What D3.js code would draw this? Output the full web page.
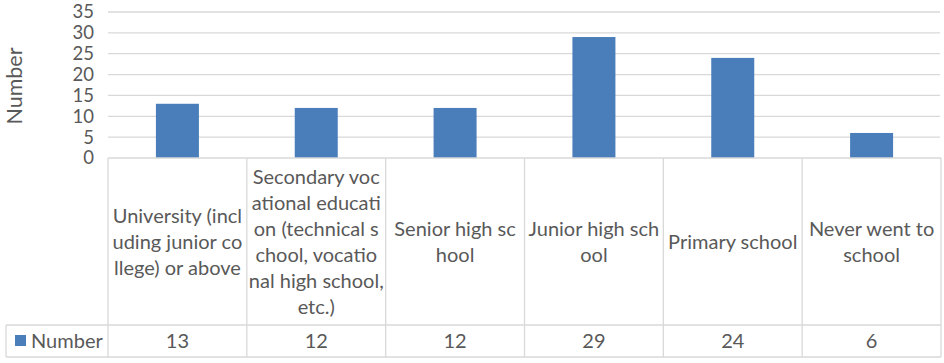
<!DOCTYPE html>
<html>
<head>
<meta charset="utf-8">
<script src="https://cdn.jsdelivr.net/npm/d3@7"></script>
<style>
  html, body { margin: 0; padding: 0; background: #fff; }
  svg { display: block; }
  text { font-family: Lato, "Open Sans", sans-serif; fill: #595959; }
</style>
</head>
<body>
<svg id="chart" width="944" height="363"></svg>
<script>
const categories = [
  "University (including junior college) or above",
  "Secondary vocational education (technical school, vocational high school, etc.)",
  "Senior high school",
  "Junior high school",
  "Primary school",
  "Never went to school"
];
const categoryLines = [
  ["University (incl", "uding junior co", "llege) or above"],
  ["Secondary voc", "ational educati", "on (technical s", "chool, vocatio", "nal high school,", "etc.)"],
  ["Senior high sc", "hool"],
  ["Junior high sch", "ool"],
  ["Primary school"],
  ["Never went to", "school"]
];
const values = [13, 12, 12, 29, 24, 6];
const seriesName = "Number";
const yTicks = [0, 5, 10, 15, 20, 25, 30, 35];
const yTitle = "Number";

(function () {
const svg = d3.select("#chart");
const pLeft = 108, pRight = 941, pTop = 12, axisY = 158;
const catBottom = 325, valBottom = 357, legendLeft = 6;
const gridCol = "#d9d9d9", barCol = "#4a7ebb";
const fs = "20px";

const x = d3.scaleBand().domain(categories).range([pLeft, pRight]).paddingInner(0).paddingOuter(0);
const y = d3.scaleLinear().domain([0, 35]).range([axisY, pTop]);

// gridlines
svg.append("g").selectAll("line").data(yTicks.filter(d => d > 0)).join("line")
  .attr("x1", pLeft).attr("x2", pRight - 1)
  .attr("y1", d => y(d)).attr("y2", d => y(d))
  .attr("stroke", gridCol).attr("stroke-width", 1.3);

// y axis tick labels
const yAxis = d3.axisLeft(y).tickValues(yTicks).tickSize(0).tickPadding(0);
const gy = svg.append("g").attr("transform", "translate(94,0)").call(yAxis);
gy.select(".domain").remove();
gy.selectAll("text").style("font-size", "18.5px").attr("fill", "#595959")
  .style("font-family", "Lato, 'Open Sans', sans-serif");

// y title
svg.append("text").attr("transform", "translate(22,86) rotate(-90)")
  .attr("text-anchor", "middle").style("font-size", "21.5px").text(yTitle);

// bars
const barW = 43;
svg.append("g").selectAll("rect").data(values).join("rect")
  .attr("x", (d, i) => x(categories[i]) + x.bandwidth() / 2 - barW / 2)
  .attr("width", barW)
  .attr("y", d => y(d))
  .attr("height", d => y(0) - y(d))
  .attr("fill", barCol);

// table lines
const tg = svg.append("g").attr("stroke", gridCol).attr("stroke-width", 1.3);
tg.append("line").attr("x1", pLeft).attr("x2", pRight).attr("y1", axisY).attr("y2", axisY);
tg.append("line").attr("x1", legendLeft).attr("x2", pRight).attr("y1", catBottom).attr("y2", catBottom);
tg.append("line").attr("x1", legendLeft).attr("x2", pRight).attr("y1", valBottom).attr("y2", valBottom);
tg.append("line").attr("x1", legendLeft).attr("x2", legendLeft).attr("y1", catBottom).attr("y2", valBottom);
const bounds = categories.map(c => x(c)).concat([pRight]);
tg.selectAll(".v").data(bounds).join("line").attr("class", "v")
  .attr("x1", d => d).attr("x2", d => d).attr("y1", axisY).attr("y2", valBottom);

// category labels
const lh = 26, centerY = 242;
categoryLines.forEach((lines, i) => {
  const cx = x(categories[i]) + x.bandwidth() / 2;
  const t = svg.append("text").attr("text-anchor", "middle").style("font-size", fs);
  const y0 = centerY - (lines.length - 1) * lh / 2;
  lines.forEach((ln, j) => {
    t.append("tspan").attr("x", cx).attr("y", y0 + j * lh).attr("dy", "0.35em").text(ln);
  });
});

// values row
svg.append("g").selectAll("text").data(values).join("text")
  .attr("x", (d, i) => x(categories[i]) + x.bandwidth() / 2)
  .attr("y", 341).attr("dy", "0.35em").attr("text-anchor", "middle")
  .style("font-size", fs).text(d => d);

// legend key
svg.append("rect").attr("x", 15).attr("y", 335).attr("width", 11).attr("height", 11).attr("fill", barCol);
svg.append("text").attr("x", 31).attr("y", 341).attr("dy", "0.35em")
  .style("font-size", fs).text(seriesName);
})();
</script>
</body>
</html>
